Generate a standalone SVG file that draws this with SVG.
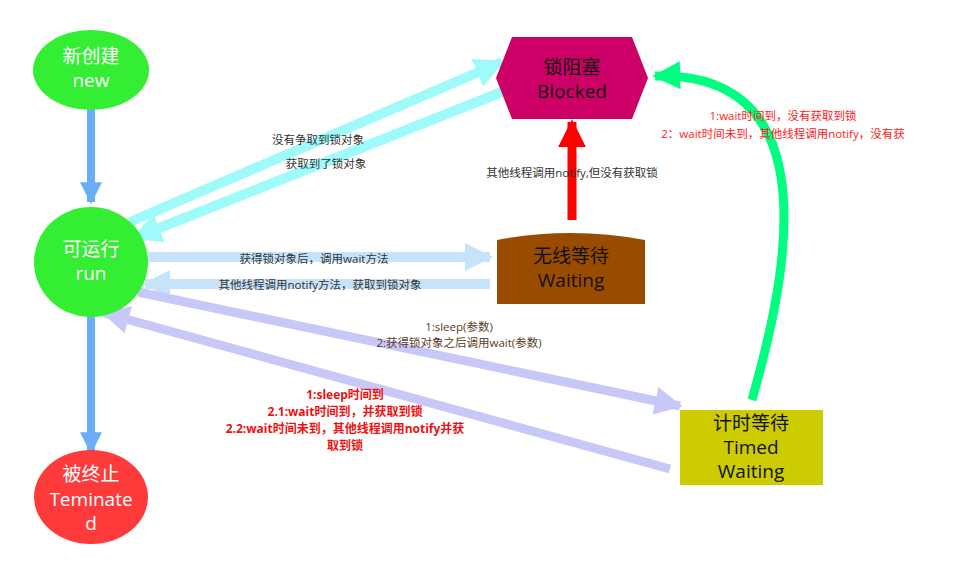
<svg xmlns="http://www.w3.org/2000/svg" width="979" height="582" viewBox="0 0 979 582">
<style>
text{font-family:"Open Sans","Noto Sans CJK SC",sans-serif;text-anchor:middle}
.n{font-size:19px;fill:#fff}
.d{font-size:19px;fill:#111}
.l{font-size:11.5px;fill:#333}
.r{font-size:11.5px;fill:#ff2020}
.rb{font-size:12px;fill:#ee1111;font-weight:bold}
</style>
<defs>
<marker id="hb" viewBox="0 0 10 10" refX="9" refY="5" markerWidth="22" markerHeight="22" markerUnits="userSpaceOnUse" orient="auto"><path d="M0,0L10,5L0,10z" fill="#6aaef7"/></marker>
<marker id="hc" viewBox="0 0 10 10" refX="9" refY="5" markerWidth="30" markerHeight="30" markerUnits="userSpaceOnUse" orient="auto"><path d="M0,0L10,5L0,10z" fill="#9ffafa"/></marker>
<marker id="hl" viewBox="0 0 10 10" refX="9" refY="5" markerWidth="28" markerHeight="28" markerUnits="userSpaceOnUse" orient="auto"><path d="M0,0L10,5L0,10z" fill="#c7e3fa"/></marker>
<marker id="hv" viewBox="0 0 10 10" refX="9" refY="5" markerWidth="28" markerHeight="28" markerUnits="userSpaceOnUse" orient="auto"><path d="M0,0L10,5L0,10z" fill="#c8c8f8"/></marker>
<marker id="hr" viewBox="0 0 10 10" refX="9" refY="5" markerWidth="28" markerHeight="28" markerUnits="userSpaceOnUse" orient="auto"><path d="M0,0L10,5L0,10z" fill="#ff0000"/></marker>
<marker id="hg" viewBox="0 0 10 10" refX="9" refY="5" markerWidth="28" markerHeight="28" markerUnits="userSpaceOnUse" orient="auto"><path d="M0,0L10,5L0,10z" fill="#00ff80"/></marker>
</defs>
<g id="connectors" fill="none">
<line x1="91" y1="108" x2="91" y2="202" stroke="#6aaef7" stroke-width="8" marker-end="url(#hb)"/>
<line x1="91" y1="316" x2="91" y2="452" stroke="#6aaef7" stroke-width="8" marker-end="url(#hb)"/>
<line x1="130" y1="222" x2="502" y2="62" stroke="#9ffafa" stroke-width="10" marker-end="url(#hc)"/>
<line x1="502" y1="92" x2="134" y2="238" stroke="#9ffafa" stroke-width="10" marker-end="url(#hc)"/>
<line x1="148" y1="257" x2="490" y2="257" stroke="#c7e3fa" stroke-width="10" marker-end="url(#hl)"/>
<line x1="490" y1="284" x2="145" y2="284" stroke="#c7e3fa" stroke-width="10" marker-end="url(#hl)"/>
<line x1="138" y1="292" x2="680" y2="406" stroke="#c8c8f8" stroke-width="9" marker-end="url(#hv)"/>
<line x1="670" y1="469" x2="104" y2="313" stroke="#c8c8f8" stroke-width="9" marker-end="url(#hv)"/>
<line x1="572" y1="220" x2="572" y2="122" stroke="#ff0000" stroke-width="9" marker-end="url(#hr)"/>
<path d="M752,400 C780,300 840,70 655,76" stroke="#00ff80" stroke-width="9" marker-end="url(#hg)"/>
</g>
<g id="labels">
<text class="l" x="318" y="144">没有争取到锁对象</text>
<text class="l" x="326" y="168">获取到了锁对象</text>
<text class="l" x="572" y="177">其他线程调用notify,但没有获取锁</text>
<text class="r" x="783" y="120">1:wait时间到，没有获取到锁</text>
<text class="r" x="783" y="138">2：wait时间未到，其他线程调用notify，没有获</text>
<text class="l" x="314" y="263">获得锁对象后，调用wait方法</text>
<text class="l" x="320" y="289">其他线程调用notify方法，获取到锁对象</text>
<text class="l" x="459" y="331" style="fill:#5a3c1e">1:sleep(参数)</text>
<text class="l" x="459" y="347" style="fill:#5a3c1e">2:获得锁对象之后调用wait(参数)</text>
<text class="rb" x="345" y="399">1:sleep时间到</text>
<text class="rb" x="345" y="416">2.1:wait时间到，并获取到锁</text>
<text class="rb" x="345" y="433">2.2:wait时间未到，其他线程调用notify并获</text>
<text class="rb" x="345" y="450">取到锁</text>
</g>
<g id="new"><ellipse cx="91" cy="70" rx="58" ry="40" fill="#33ee33"/><text class="n" x="91" y="63">新创建</text><text class="n" x="91" y="87">new</text></g>
<g id="run"><ellipse cx="91" cy="262" rx="57" ry="55" fill="#33ee33"/><text class="n" x="91" y="256">可运行</text><text class="n" x="91" y="280">run</text></g>
<g id="terminated"><ellipse cx="91" cy="497" rx="57" ry="47" fill="#ff3a3a"/><text class="n" x="91" y="481">被终止</text><text class="n" x="91" y="506">Teminate</text><text class="n" x="91" y="530">d</text></g>
<g id="blocked"><polygon points="512,37 632,37 648,78 632,119 512,119 496,78" fill="#cc0066"/><text class="d" x="572" y="74">锁阻塞</text><text class="d" x="572" y="98">Blocked</text></g>
<g id="waiting"><path d="M497,240 Q571,226 645,240 L645,304 L497,304 Z" fill="#994c00"/><text class="d" x="571" y="263">无线等待</text><text class="d" x="571" y="287">Waiting</text></g>
<g id="timed"><rect x="680" y="410" width="143" height="75" fill="#cccc00"/><text class="d" x="751" y="430">计时等待</text><text class="d" x="751" y="454">Timed</text><text class="d" x="751" y="478">Waiting</text></g>
</svg>
